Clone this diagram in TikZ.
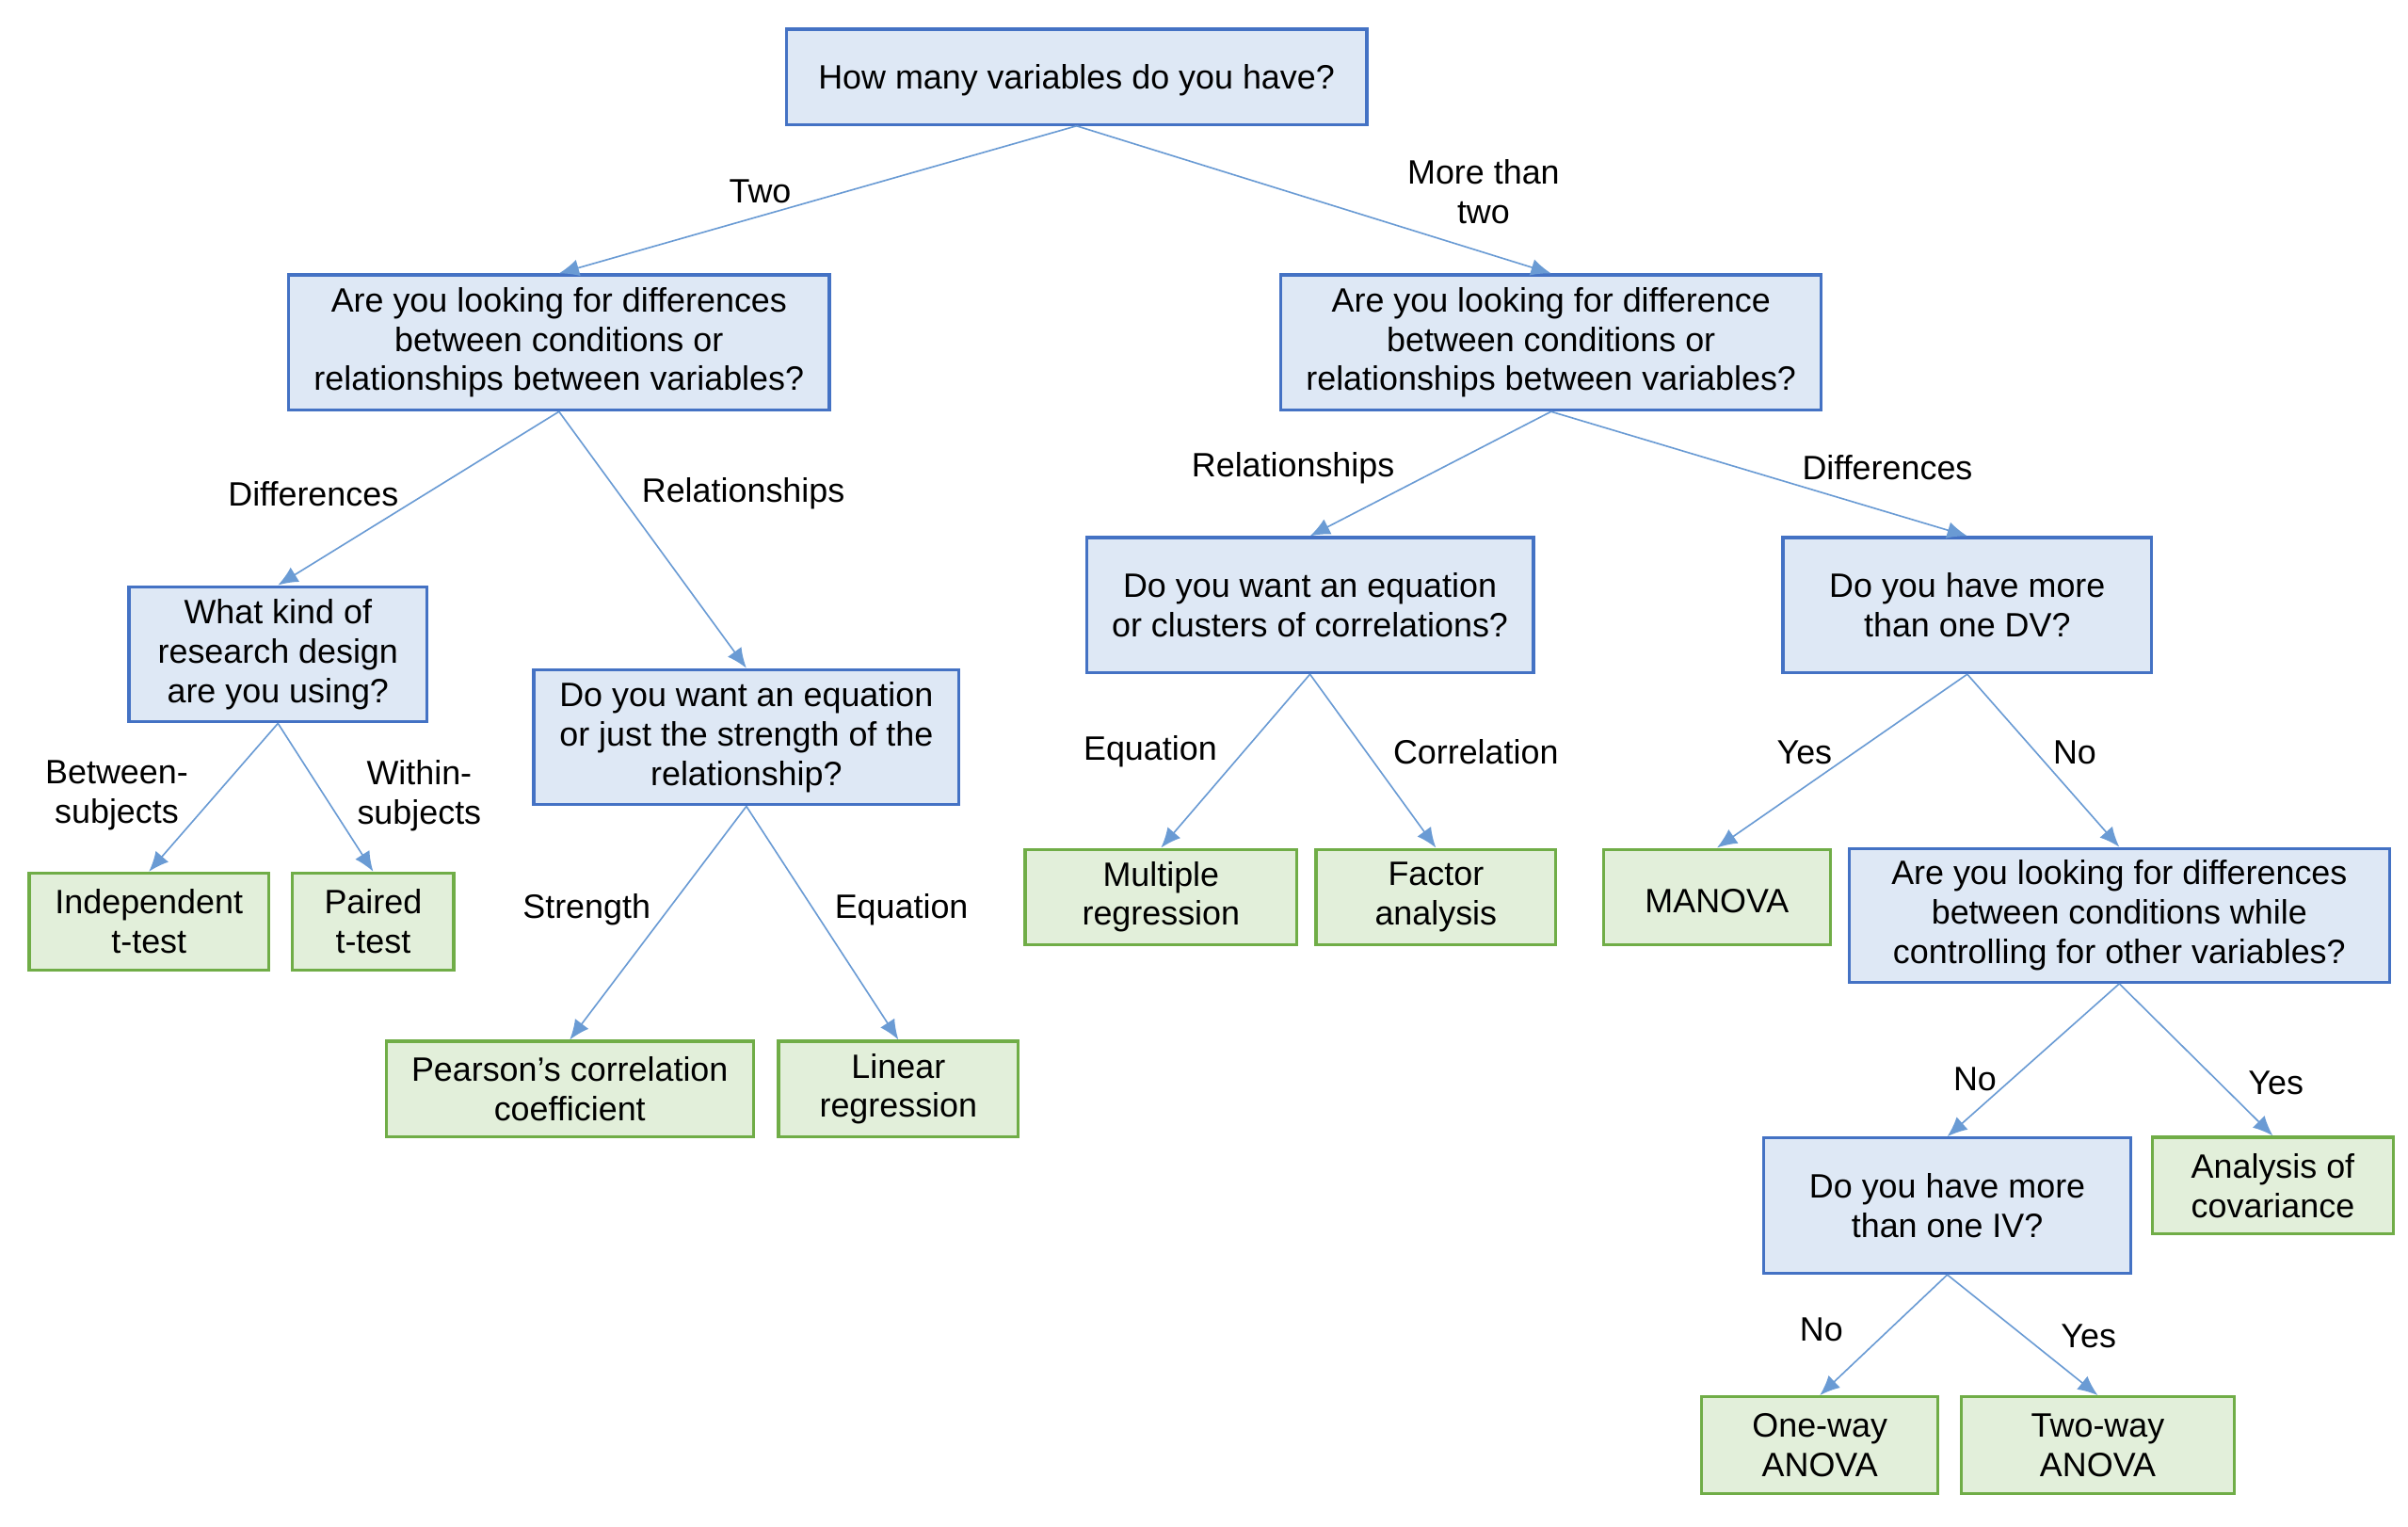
\documentclass[tikz,border=0pt]{standalone}
\usepackage{fontspec}
\setmainfont{Liberation Sans}
\usetikzlibrary{arrows.meta}
\definecolor{qline}{HTML}{4472C4}
\definecolor{qfill}{HTML}{DEE8F5}
\definecolor{aline}{HTML}{70AD47}
\definecolor{afill}{HTML}{E2EFDA}
\definecolor{link}{HTML}{6A9BD4}
\tikzset{
	every node/.style={font=\fontsize{11}{12.8}\selectfont, align=center,
		execute at begin node={\rule{0pt}{10.5pt}}},
	qbox/.style={draw=qline, fill=qfill, line width=1pt, inner sep=0pt},
	abox/.style={draw=aline, fill=afill, line width=1pt, inner sep=0pt},
	conn/.style={->, draw=link, fill=link, line width=0.5pt}
}
\begin{document}
\begin{tikzpicture} [>={Latex[length=6.5pt,width=5.5pt]}, x=0.5pt, y=-0.5pt]
	\useasboundingbox (0,0) rectangle (1568,994);
	%%% Domande
	\node[qbox, minimum width=189pt, minimum height=31pt] (howmany) at (701,50) {How many variables do you have?};
	\node[qbox, minimum width=176pt, minimum height=44pt] (twoq) at (364,223) {Are you looking for differences\\between conditions or\\relationships between variables?};
	\node[qbox, minimum width=176pt, minimum height=44pt] (moreq) at (1010,223) {Are you looking for difference\\between conditions or\\relationships between variables?};
	\node[qbox, minimum width=97pt, minimum height=44pt] (design) at (181,426) {What kind of\\research design\\are you using?};
	\node[qbox, minimum width=138.5pt, minimum height=44pt] (eqstr) at (486,480) {Do you want an equation\\or just the strength of the\\relationship?};
	\node[qbox, minimum width=145.5pt, minimum height=44pt] (eqclus) at (853,394) {Do you want an equation\\or clusters of correlations?};
	\node[qbox, minimum width=120pt, minimum height=44pt] (moredv) at (1281,394) {Do you have more\\than one DV?};
	\node[qbox, minimum width=176pt, minimum height=43.5pt] (ctrlq) at (1380,596) {Are you looking for differences\\between conditions while\\controlling for other variables?};
	\node[qbox, minimum width=119.5pt, minimum height=44pt] (moreiv) at (1268,785) {Do you have more\\than one IV?};
	%%% Risposte
	\node[abox, minimum width=78pt, minimum height=31.5pt] (indep) at (97,600) {Independent\\t-test};
	\node[abox, minimum width=52.5pt, minimum height=31.5pt] (paired) at (243,600) {Paired\\t-test};
	\node[abox, minimum width=119.5pt, minimum height=31pt] (pearson) at (371,709) {Pearson’s correlation\\coefficient};
	\node[abox, minimum width=78pt, minimum height=31pt] (linreg) at (585,709) {Linear\\regression};
	\node[abox, minimum width=88.5pt, minimum height=31pt] (multreg) at (756,584) {Multiple\\regression};
	\node[abox, minimum width=78pt, minimum height=31pt] (factor) at (935,584) {Factor\\analysis};
	\node[abox, minimum width=74pt, minimum height=31pt] (manova) at (1118,584) {MANOVA};
	\node[abox, minimum width=78.5pt, minimum height=31.5pt] (ancova) at (1480,772) {Analysis of\\covariance};
	\node[abox, minimum width=77pt, minimum height=31.5pt] (oneway) at (1185,941) {One-way\\ANOVA};
	\node[abox, minimum width=89pt, minimum height=31.5pt] (twoway) at (1366,941) {Two-way\\ANOVA};
	%%% Frecce
	\draw[conn] (howmany.south) -- (twoq.north);
	\draw[conn] (howmany.south) -- (moreq.north);
	\draw[conn] (twoq.south) -- (design.north);
	\draw[conn] (twoq.south) -- (eqstr.north);
	\draw[conn] (design.south) -- (indep.north);
	\draw[conn] (design.south) -- (paired.north);
	\draw[conn] (eqstr.south) -- (pearson.north);
	\draw[conn] (eqstr.south) -- (linreg.north);
	\draw[conn] (moreq.south) -- (eqclus.north);
	\draw[conn] (moreq.south) -- (moredv.north);
	\draw[conn] (eqclus.south) -- (multreg.north);
	\draw[conn] (eqclus.south) -- (factor.north);
	\draw[conn] (moredv.south) -- (manova.north);
	\draw[conn] (moredv.south) -- (ctrlq.north);
	\draw[conn] (ctrlq.south) -- (moreiv.north);
	\draw[conn] (ctrlq.south) -- (ancova.north);
	\draw[conn] (moreiv.south) -- (oneway.north);
	\draw[conn] (moreiv.south) -- (twoway.north);
	%%% Etichette
	\node (ltwo) at (495,122) {Two};
	\node (lmore) at (966,125) {More than\\two};
	\node (ldiffa) at (204,319) {Differences};
	\node (lrela) at (484,319) {Relationships};
	\node (lrelb) at (842,302) {Relationships};
	\node (ldiffb) at (1229,302) {Differences};
	\node (lbetw) at (76,518) {Between-\\subjects};
	\node (lwith) at (273,518) {Within-\\subjects};
	\node (lstr) at (382,590) {Strength};
	\node (leqa) at (587,590) {Equation};
	\node (leqb) at (749,487) {Equation};
	\node (lcorr) at (961,487) {Correlation};
	\node (lyesa) at (1175,487) {Yes};
	\node (lnoa) at (1351,487) {No};
	\node (lnob) at (1286,700) {No};
	\node (lyesb) at (1482,702) {Yes};
	\node (lnoc) at (1186,863) {No};
	\node (lyesc) at (1360,867) {Yes};
\end{tikzpicture}
\end{document}
